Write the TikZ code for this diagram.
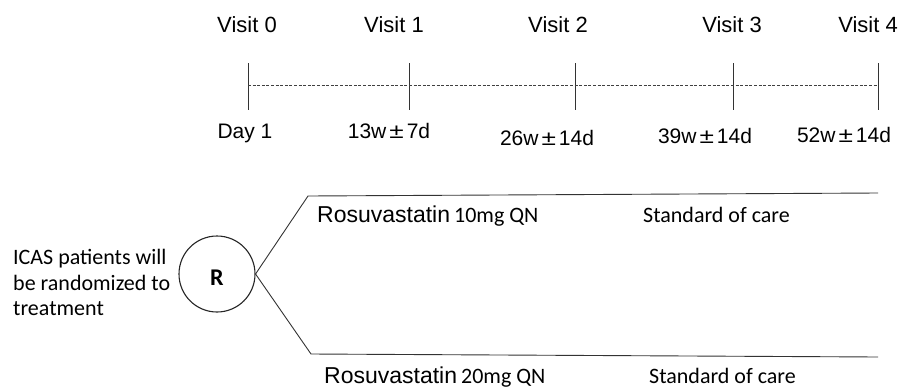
\documentclass[tikz,border=0pt]{standalone}
\usepackage{fontspec}
\setmainfont{Liberation Sans}
\newfontfamily\calib{Carlito}
\newcommand{\pmw}{\kern3pt\scalebox{1.25}[1]{±}\kern3pt}
\begin{document}
\begin{tikzpicture}[x=1pt,y=-1pt,
  visit/.style={anchor=base,inner sep=0pt,font=\fontsize{22}{24}\selectfont},
  daylab/.style={anchor=base,inner sep=0pt,font=\fontsize{21}{24}\selectfont},
  tick/.style={line width=1pt,draw=black!80},
  armline/.style={line width=0.9pt,draw=black!80},
  cal/.style={inner sep=0pt,font=\calib\fontsize{22}{27}\selectfont}]
\useasboundingbox (0,0) rectangle (911,389);
% visit labels
\node[visit] (v0) at (247,32) {Visit 0};
\node[visit] (v1) at (394,32) {Visit 1};
\node[visit] (v2) at (558,32) {Visit 2};
\node[visit] (v3) at (732,32) {Visit 3};
\node[visit] (v4) at (868,32) {Visit 4};
% ticks
\foreach \n/\x in {0/248,1/409,2/575,3/733,4/878}{
  \coordinate (t\n a) at (\x,63);
  \coordinate (t\n b) at (\x,110);
  \coordinate (t\n m) at (\x,85);
  \draw[tick] (t\n a) -- (t\n b);
}
\draw[line width=0.8pt,draw=black!75,dash pattern=on 3pt off 1.6pt] (t0m) -- (t4m);
% day labels
\node[daylab] (d0) at (245,138) {Day 1};
\node[daylab] (d1) at (389,138) {13w\pmw 7d};
\node[daylab] (d2) at (547,145) {26w\pmw 14d};
\node[daylab] (d3) at (705,143) {39w\pmw 14d};
\node[daylab] (d4) at (844,142) {52w\pmw 14d};
% randomisation
\node[draw=black!85,line width=1.1pt,circle,minimum size=76pt,inner sep=0pt] (R) at (217,274) {};
\node[inner sep=0pt,font=\calib\bfseries\fontsize{24}{24}\selectfont,anchor=base] (Rl) at (217,285) {R};
\node[cal,anchor=base west] (icas1) at (13,264) {ICAS patients will};
\node[cal,anchor=base west] (icas2) at (13,290) {be randomized to};
\node[cal,anchor=base west] (icas3) at (13,315) {treatment};
% arms
\coordinate (ua) at (308,196);
\coordinate (ub) at (878,193);
\coordinate (la) at (311,354);
\coordinate (lb) at (878,357);
\draw[armline] (R.east) -- (ua) -- (ub);
\draw[armline] (R.east) -- (la) -- (lb);
\node[anchor=base west,inner sep=0pt] (rt) at (317,222) {\fontsize{23}{24}\selectfont Rosuvastatin\kern4pt{\calib\fontsize{22}{24}\selectfont 10mg QN}};
\node[cal,anchor=base west] (st) at (643,222) {Standard of care};
\node[anchor=base west,inner sep=0pt] (rb) at (324,383) {\fontsize{23}{24}\selectfont Rosuvastatin\kern4pt{\calib\fontsize{22}{24}\selectfont 20mg QN}};
\node[cal,anchor=base west] (sb) at (649,383) {Standard of care};
\end{tikzpicture}
\end{document}
